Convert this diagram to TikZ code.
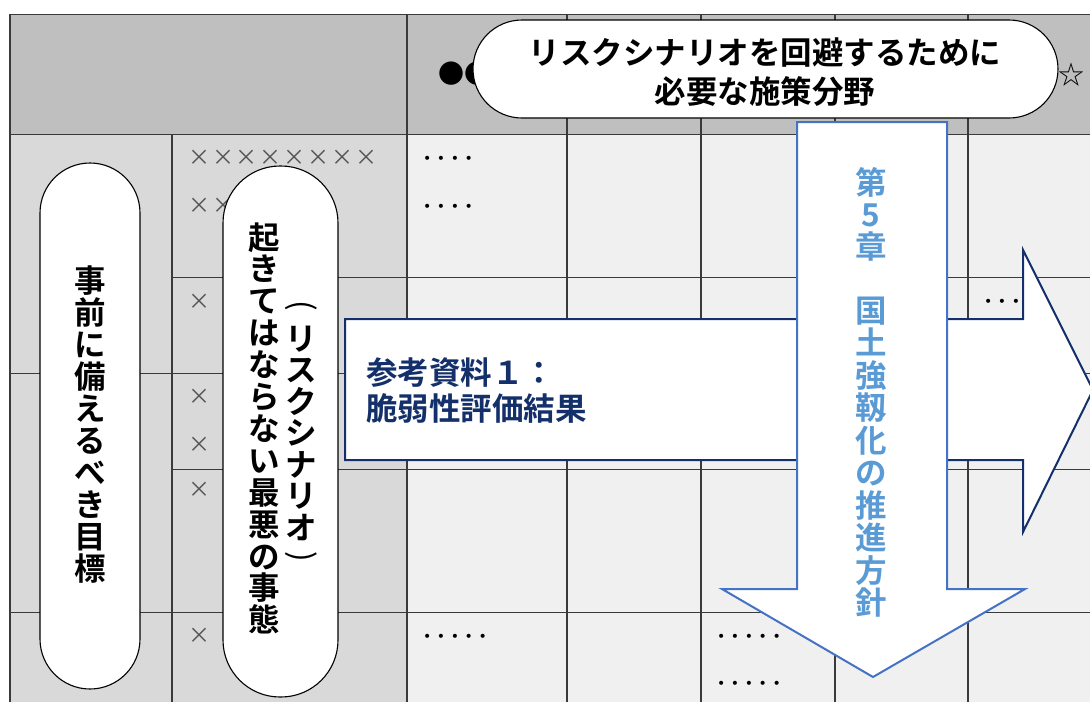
\documentclass[tikz,border=0pt]{standalone}
\usepackage{fontspec}
\newfontfamily\jpb{Noto Sans CJK JP Bold}
\newfontfamily\jpr{Noto Sans CJK JP}
\newfontfamily\dvs{DejaVu Sans}
\definecolor{hdr}{HTML}{BFBFBF}
\definecolor{lgray}{HTML}{D9D9D9}
\definecolor{rgray}{HTML}{F0F0F0}
\definecolor{gridc}{HTML}{3A3A3A}
\definecolor{navy}{HTML}{14306B}
\definecolor{blueline}{HTML}{4472C4}
\definecolor{bluetxt}{HTML}{5B9BD5}
\definecolor{xgray}{HTML}{555555}
\newcommand\xm{\makebox[23.9pt]{×}}
\newcommand\dm{\makebox[13.9pt]{•}}
\newcommand\vcol[6]{\foreach \ch [count=\k from 0] in {#6} {\node[big,#1] (#2\k) at (#3,#4+\k*#5+12) {\ch};}}
\tikzset{
  big/.style={font=\jpb\fontsize{31.5}{32}\selectfont, inner sep=0pt, anchor=base},
  paren/.style={font=\jpr\fontsize{31.5}{32}\selectfont, inner sep=0pt, anchor=center, rotate=-90},
  hline/.style={draw=gridc, line width=1pt},
  vline/.style={draw=gridc, line width=1.3pt},
  pill/.style={draw=black, line width=1.1pt, fill=white},
  xs/.style={font=\jpr\fontsize{22}{22}\selectfont, text=xgray, inner sep=0pt, anchor=base west},
  ds/.style={font=\dvs\fontsize{14}{14}\selectfont, text=black, inner sep=0pt, anchor=base west},
}
\begin{document}
\begin{tikzpicture}[x=1pt,y=-1pt]
\useasboundingbox (0,0) rectangle (1090,702);
\fill[white] (0,0) rectangle (1090,702);
% cell fills
\fill[hdr] (10,14) rectangle (1090,134);
\fill[lgray] (10,134) rectangle (407,702);
\fill[rgray] (407,134) rectangle (1090,702);
% horizontal grid lines
\draw[hline] (10,14) -- (1090,14);
\draw[hline] (10,134) -- (1090,134);
\draw[hline] (10,373) -- (1090,373);
\draw[hline] (10,612) -- (1090,612);
\draw[hline] (172,277) -- (1090,277);
\draw[hline] (172,469) -- (1090,469);
% vertical grid lines
\draw[vline] (10,14) -- (10,702);
\draw[vline] (172,134) -- (172,702);
\foreach \xv in {407,567,701,835,968} {\draw[vline] (\xv,14) -- (\xv,702);}
% header marks
\node[font=\jpr\fontsize{26}{26}\selectfont, inner sep=0pt, anchor=base west] (hdots) at (438,83) {●●};
\node[font=\jpr\fontsize{26}{26}\selectfont, inner sep=0pt, anchor=base west] (hstar) at (1058,84) {☆};
% cross marks
\node[xs] (x1) at (187,165) {\xm\xm\xm\xm\xm\xm\xm\xm};
\node[xs] (x2) at (187,213) {\xm\xm};
\node[xs] (x3) at (187,309) {\xm};
\node[xs] (x4) at (187,404) {\xm};
\node[xs] (x5) at (187,452) {\xm};
\node[xs] (x6) at (187,497) {\xm};
\node[xs] (x7) at (187,643) {\xm};
% dot marks
\node[ds] (d1) at (420,163) {\dm\dm\dm\dm};
\node[ds] (d2) at (420,211) {\dm\dm\dm\dm};
\node[ds] (d3) at (981,306) {\dm\dm\dm};
\node[ds] (d4) at (420,641) {\dm\dm\dm\dm\dm};
\node[ds] (d5) at (714,641) {\dm\dm\dm\dm\dm};
\node[ds] (d6) at (714,688) {\dm\dm\dm\dm\dm};
% right arrow
\draw[draw=navy, line width=2pt, fill=white, line join=miter]
  (345,319) -- (1023,319) -- (1023,250) -- (1093,390) -- (1023,532) -- (1023,460) -- (345,460) -- cycle;
\node[big, anchor=base west, text=navy] (r1) at (366,384) {参考資料１：};
\node[big, anchor=base west, text=navy] (r2) at (366,420) {脆弱性評価結果};
% down arrow
\draw[draw=blueline, line width=2pt, fill=white, line join=miter]
  (797,122) -- (947,122) -- (947,589) -- (1025,589) -- (873,677) -- (722,589) -- (797,589) -- cycle;
\vcol{text=bluetxt}{da}{871}{182}{32}{第,5,章}
\vcol{text=bluetxt}{db}{871}{310}{32.5}{国,土,強,靱,化,の,推,進,方,針}
% top pill
\draw[pill, rounded corners=49pt] (473,20) rectangle (1058,118);
\node[big] (t1) at (765,64) {リスクシナリオを回避するために};
\node[big] (t2) at (765,103) {必要な施策分野};
% left pills
\draw[pill, rounded corners=50pt] (40,163) rectangle (140,689);
\vcol{}{pa}{90}{280}{32}{事,前,に,備,え,る,べ,き,目,標}
\draw[pill, rounded corners=57pt] (223,166) rectangle (338,697);
\vcol{}{pb}{264}{237}{31.9}{起,き,て,は,な,ら,な,い,最,悪,の,事,態}
\node[paren] (pc0) at (301,306) {(};
\vcol{}{pc}{301}{338}{31.5}{リ,ス,ク,シ,ナ,リ,オ}
\node[paren] (pc9) at (301,557) {)};
\end{tikzpicture}
\end{document}
